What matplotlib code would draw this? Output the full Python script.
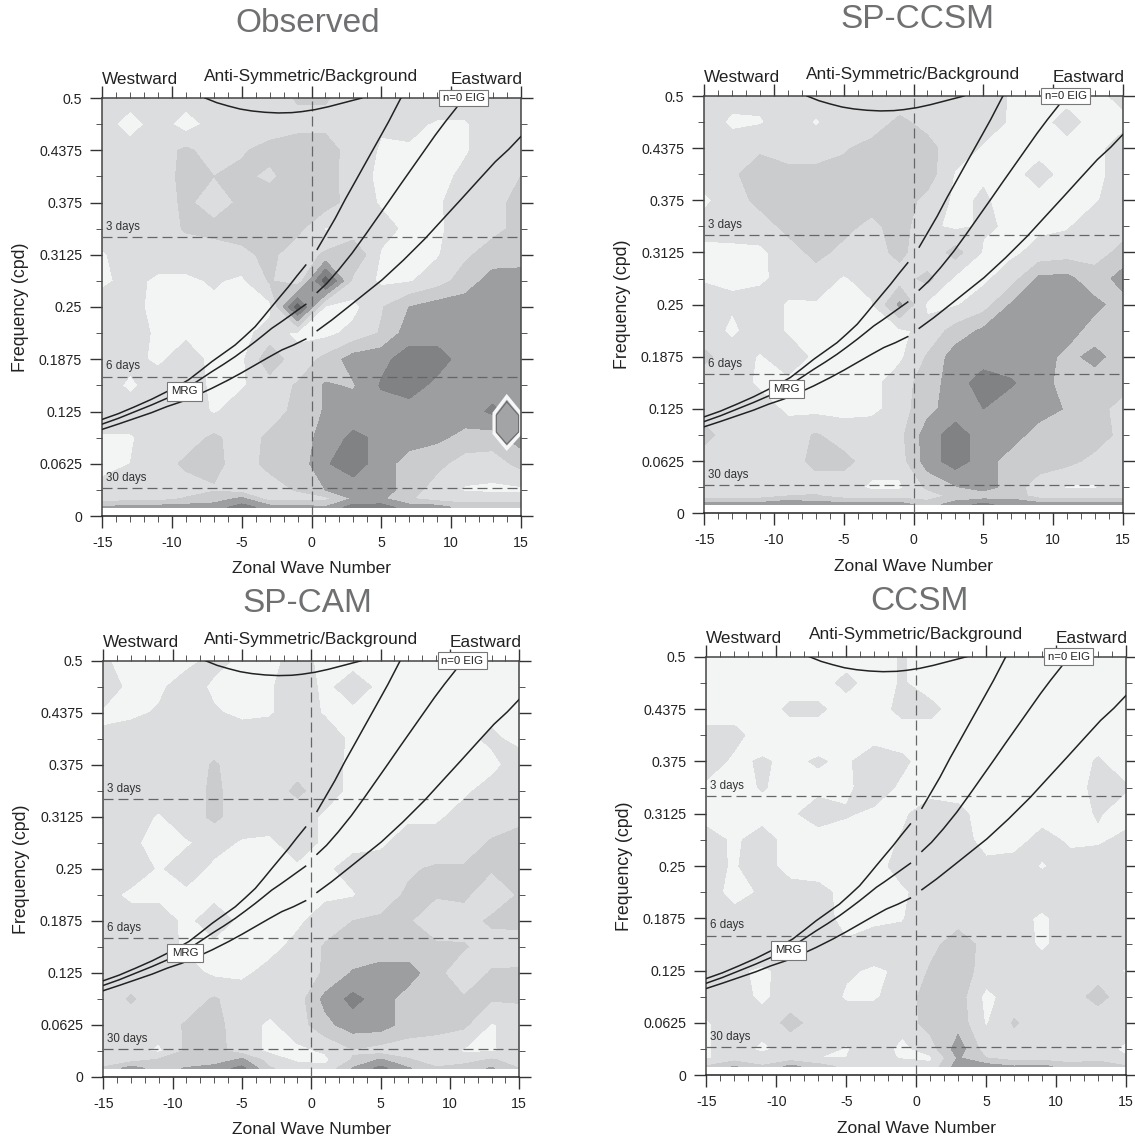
import numpy as np
import matplotlib
matplotlib.use('Agg')
import matplotlib.pyplot as plt

plt.rcParams['font.family'] = ['Liberation Sans', 'DejaVu Sans']
plt.rcParams['axes.unicode_minus'] = False

wavenumber = [-15, -13, -11, -9, -7, -5, -3, -1, 1, 3, 5, 7, 9, 11, 13, 15]
freq = [0.5, 0.46875, 0.4375, 0.40625, 0.375, 0.34375, 0.3125, 0.28125, 0.25,
        0.21875, 0.1875, 0.15625, 0.125, 0.09375, 0.0625, 0.03125, 0.0208, 0.0104]

# contour class of the power ratio, top row is 0.5 cpd
observed = [
    [1, 1, 1, 1, .8, 1, 1, 1.6, 1.6, 1, 1, 1, 1, 1, 1, 1],
    [1, 0, 1, 0, .9, 1.4, 1, 1.2, 1.2, 1, .6, .7, .4, .4, 1, 1],
    [1, 1, 1, 1.7, 1, 1.4, 1.8, 2, 2, 1, .4, .4, .2, .4, 1, 1],
    [1, 1, 1, 1.8, 1.5, 1.7, 1.3, 2, 2, .9, .3, .3, .2, .7, 1, 1.5],
    [1, 1, 1, 1.7, 1, 1.7, 2, 2, 2, 1, .4, .4, .3, 1.2, 1.2, 1.8],
    [1, 1, 1, 1.6, 1.8, 2, 2, 1.8, .4, .8, .8, .3, .3, 1, 1.2, 1.8],
    [.4, 1, 1, 1, 1, 1.2, 1.8, .8, 1.7, 2.4, .4, .2, .4, 1.3, 2, 1.8],
    [.3, .8, .3, .3, .6, .3, 1.6, .8, 5, 1.2, .3, .4, 1, 2, 2.9, 3.2],
    [1, .6, .4, .3, .3, .3, .2, 5, .3, .2, 1.4, 2.5, 3, 3, 3, 3],
    [1, 1, .3, .3, .2, .2, .9, .3, .2, .8, 1.6, 3, 3, 3, 3, 3],
    [1, .8, .3, 1, .2, .3, 2.2, .8, 1.8, 3, 3.2, 4, 4, 3, 3, 3],
    [1, .3, 1, 1, .3, .4, 1, 1.6, 2.6, 2.4, 3.6, 4, 3.2, 3, 3, 3],
    [1, 1, 1, 1, .4, 1, 1, 1.8, 2.6, 3, 3, 3, 2.8, 3, 3.7, 3],
    [.4, .4, 1, 1, 1.7, 1, 1.7, 1.8, 3, 3.7, 3.3, 3, 2.7, 2.2, 2, 3],
    [.3, .5, 1, 1.7, 1.8, 1, 1.8, 1.8, 3.4, 4, 3, 2, 1.8, 1, 1, 1.8],
    [.7, 1, 1, 1, 1.4, 1, 1, 1.6, 2.5, 3, 3, 2, 1, .4, .3, .3],
    [1, 1, 1, 1.6, 2, 2.7, 1, 1, 1.2, 2.6, 2.7, 1.6, 1, 1, 1, 1],
    [2.6, 3, 3, 3, 3, 4, 3, 3, 2.6, 4, 4, 3, 3, 2, 2, 2],
]
sp_ccsm = [
    [1, .9, .8, .9, 1, 1, 1, .9, 1, 1, 1, .4, .3, .3, .3, .7],
    [1, .3, .4, 1, .4, 1, 1, 1.7, 1.2, 1, .9, .4, .3, .7, .3, .3],
    [1, 1, 1.4, 1, 1, 1.4, 1.8, 2, 1.8, 1, .4, .2, .3, .3, .3, .8],
    [1, 1.4, 1.8, 1.8, 1.8, 1.8, 2, 1.8, 2, .4, .4, .3, .7, .3, .3, .8],
    [.3, 1, 1.8, 1.8, 2.2, 2, 2, 2, 1.2, .3, .6, .2, .3, .3, .4, 1],
    [.9, 1, 1, 1.8, 2, 1.8, 1.2, 2, .7, .3, .6, .4, .3, .4, 1, 1.2],
    [.2, .2, .3, 1, 1.8, 1.2, 1, 1.8, .7, 1.9, .4, .3, .8, 1, 1.2, 1.7],
    [.4, .4, .3, .9, 1, .4, .9, 1, 1.8, .3, .3, 1, 2.7, 2.8, 1.8, 3],
    [1, .6, 1, .4, .4, .3, .4, 2.7, .3, .4, 1, 2.6, 3, 3, 2.8, 2],
    [1, .3, 1, .4, .3, .4, .3, .3, .8, 1.9, 2.7, 3, 3.2, 3, 2, 2],
    [1.7, 1, .4, 1, .3, .3, .2, .3, 1.6, 3, 3, 3, 3, 2.2, 2.8, 2],
    [1, 1, .3, .3, .2, .2, .2, 1, 2, 3, 4, 3.6, 3, 2, 2, 2],
    [1, 1, 1, .3, .2, .2, .2, 1, 2.2, 3, 3.5, 3, 3, 2.4, 2, 1],
    [1.8, 1, 1, 1, 1.6, 1, 1.2, 1.2, 3, 4, 3, 3, 2, 2, 2, 1.2],
    [1, 1, 1, 1, 1.8, 1.8, 1, 1, 3, 4, 3, 2, 2, 1.8, 1.2, 1.2],
    [1, 1, .9, 1, 1, 1, .3, .3, 1.7, 2.4, 3, 2, 1, .4, .4, 1],
    [1, 1, 1, 1.5, 1.6, 1, 1, 1, 1, 1.8, 1.8, 2.2, 1, 1, 1, 1],
    [3, 3, 3, 3.4, 3, 3, 3, 3, 2, 3, 3.8, 3, 3, 3, 3, 3],
]
sp_cam = [
    [.6, .2, .2, .2, .8, .3, .2, .9, .2, .2, .4, .2, .2, .2, .2, .2],
    [.9, .3, .3, 1, .3, .3, .4, 1, .3, .9, .3, .2, .2, .2, .2, .4],
    [.4, .3, .6, 1, .6, .3, .4, 1, .4, .3, .2, .2, .2, .2, .2, .3],
    [.6, 1, 1, 1, 1, 1, 1, 1, 1, .3, .2, .2, .2, .2, .7, .2],
    [1, 1, 1, 1, 1.6, 1, 1, 1.1, 1, .2, .2, .2, .2, .2, .2, 1],
    [.9, 1, 1, 1, 1.7, 1, 1, 1.7, 1, .2, .2, .2, .2, .3, .9, 1.1],
    [.6, .9, .4, 1, 1.7, 1, 1, 1, .3, .2, .2, .3, .3, .9, 1, 1.3],
    [1, .6, .3, .4, .8, .4, .3, 1, .3, .2, .3, 1, 1, 1, 1.6, 1.8],
    [1, 1, .4, .9, .3, .3, .3, .3, .3, .9, 1, 1.4, 1.6, 1.6, 1.6, 1.6],
    [.8, .3, .3, .3, .3, .3, .3, .2, .3, .4, 1.2, 1.6, 1.6, 1.7, .8, 1.6],
    [1, .9, .9, .3, .9, .3, .3, .3, 1, 1.5, 1.6, 1.6, .8, 1, 1.7, 1.7],
    [1, 1, 1, .3, .3, .2, .2, .8, 1.6, 1.8, 1.8, 1.8, 1.7, 1.6, 1, 1.1],
    [1, 1, 1, .9, .3, .3, .8, 1, 1.6, 2.6, 3, 3, 1.8, .8, 1.6, 1.6],
    [1, 1.6, 1, 1, 1.6, 1, 1, 1, 2.8, 3.8, 3, 2, 1.8, 1.6, 1.6, 1.6],
    [1, 1, 1, 1.6, 1.8, 1, .3, 1, 2.2, 3, 3, 2, 1.8, 1.7, .4, 1],
    [.8, .9, .3, 1.7, 1.9, 1, .3, .3, .6, 1.4, 1, 1, 1, .4, .4, .9],
    [1, 1, 1.6, 1.6, 1.8, 2.7, 1, .3, .3, 1.6, 2.6, 1.6, 1, 1, 1.6, 1],
    [1.6, 3, 2, 2.6, 3, 3.8, 1.6, 1, .7, 2.6, 3.8, 2.6, 1.6, 2, 2.6, 1.5],
]
ccsm = [
    [0, 0, 0, 0, 0, 0, 0, .6, 0, 0, 0, 0, 0, 0, 0, 0],
    [0, 0, 0, 0, 0, .8, 0, .6, 0, 0, 0, 0, 0, 0, 0, 0],
    [0, 0, 0, .7, .7, 0, 0, .8, .8, 0, 0, 0, 0, 0, 0, 0],
    [.8, .8, 0, 0, 0, 0, 0, 0, 0, 0, 0, 0, 0, 0, 0, 0],
    [1, .3, .6, .3, .6, .3, 1.2, .7, 0, 0, 0, 0, 0, 0, .6, 0],
    [.3, 0, .6, 0, .2, .3, 1, .3, 0, 0, 0, 0, 0, 0, .8, .6],
    [0, 0, 0, .3, 1, .6, .3, .3, 1.1, .8, 0, 0, 0, 0, .6, 0],
    [1, .3, 1, 0, 0, 0, 0, .6, 1.3, 1.1, 0, 0, .9, .3, .3, .8],
    [.8, .4, 1, 0, 0, 0, 0, 1, 1.3, 1.1, .8, 1, .4, .9, 1.2, 1.2],
    [.9, .2, .6, 1, .8, .2, .1, .3, 1.1, 1.2, .8, .7, 1.1, 1, .6, .6],
    [1, .8, .9, 1, .9, .2, .3, .4, 1.5, 1.1, 1.3, .9, .3, 1, 1, 1],
    [1, 1, 1, 1.1, 1.1, .6, .9, 1.1, 1.2, 2, 1.2, 1.1, .3, 1.1, 1.1, 1.2],
    [1, .6, .4, .7, 1, .6, .4, .6, 1.6, 2, 1.1, .6, 1.1, 1.1, 1.1, .4],
    [1, .9, .3, 1, 1, .4, .4, .9, 2, 2, .2, 1, 1.1, 1.1, 1.8, 1],
    [.4, 1, .9, 1.8, 1.1, 1, 1, .9, 1.9, 2.1, .4, 1.6, 1, .5, .9, 1],
    [.4, .9, .3, .9, .9, .4, 1.1, .2, 1, 3, 1, 1, 1, .6, .9, .3],
    [.4, .9, .9, .9, .5, .5, .9, .4, .3, 2.6, 1.5, 1, 1, .9, .9, .6],
    [1.6, 2.6, 1.6, 2.8, 2, 1.2, 1.2, 1.2, .8, 3, 3, 2.6, 2.8, 2, 2.5, 1.6],
]

titles = ['Observed', 'SP-CCSM', 'SP-CAM', 'CCSM']
panels = [observed, sp_ccsm, sp_cam, ccsm]
title_centres = [(308, 24), (917, 20), (307, 603), (919, 601)]
# left, right, top, bottom in pixels
boxes = [(102.3, 520.7, 98, 516), (704.3, 1122.7, 96, 513.3),
         (103.3, 519.3, 660.7, 1077), (706.3, 1126, 656.7, 1075.3)]

# dispersion curves
w1_k = [-15, -13.85, -12.66, -11.47, -10.38, -9.55, -8.83, -7.99, -7.15, -6.31, -5.48, -4.76,
        -4.04, -3.44, -2.85, -2.25, -1.65, -1.05, -0.41]
w1_f = [.1156, .1224, .1308, .1396, .1487, .1559, .1627, .1735, .1846, .1946, .2045, .2153,
        .2265, .2384, .2504, .2624, .2743, .2871, .3002]
w2_k = [-15, -13.85, -12.66, -11.47, -10.38, -9.43, -8.59, -7.87, -7.15, -6.31, -5.48, -4.76,
        -4.04, -3.44, -2.85, -2.25, -1.65, -1.05, -0.41]
w2_f = [.1100, .1168, .1248, .1328, .1407, .1487, .1567, .1646, .1726, .1814, .1906, .1994,
        .2085, .2165, .2245, .2313, .2384, .2456, .2532]
w3_k = [-15, -13.85, -12.66, -11.47, -10.38, -9.31, -8.35, -7.15, -5.96, -5.0, -4.04, -3.08,
        -2.13, -1.29, -0.41]
w3_f = [.1037, .1100, .1168, .1236, .1308, .1368, .1435, .1527, .1627, .1714, .1806, .1898,
        .1986, .2045, .2117]
e1_k = [.41, .98, 1.70, 2.42, 3.13, 3.73, 4.33, 4.93, 5.53, 6.41]
e1_f = [.319, .3353, .356, .3788, .3999, .4179, .4358, .4537, .4717, .5]
e2_k = [.41, 1.1, 1.94, 2.9, 3.85, 4.69, 5.53, 6.36, 7.2, 8.04, 8.88, 9.6, 10.36, 10.8]
e2_f = [.2675, .2783, .2943, .3142, .3361, .3561, .376, .396, .4159, .4358, .4557, .4717,
        .4877, .4976]
e3_k = [.41, 1.46, 2.66, 3.85, 5.05, 6.6, 8.16, 9.47, 10.79, 11.98, 13.18, 14.14, 15]
e3_f = [.2217, .2345, .2504, .2663, .2823, .3062, .3321, .356, .38, .4019, .4238, .4386, .4537]
arc_k = [-7.63, -6.79, -5.96, -5.12, -4.28, -3.33, -2.37, -1.41, -0.69, 0.26, 1.22, 2.42, 3.61]
arc_f = [.5, .4944, .4904, .4868, .4845, .4829, .4821, .4825, .4837, .4861, .4896, .4948, .5]
curves = [(w1_k, w1_f), (w2_k, w2_f), (w3_k, w3_f), (e1_k, e1_f),
          (e2_k, e2_f), (e3_k, e3_f), (arc_k, arc_f)]

periods = [3, 6, 30]
period_labels = ['3 days', '6 days', '30 days']

# odd ringed cell in the observed panel
ring_k = [14.0, 14.98, 14.98, 14.0, 13.1, 13.1, 14.0]
ring_f = [.1427, .1228, .0989, .0809, .0989, .1228, .1427]
inner_k = [14.0, 14.85, 14.85, 14.0, 13.25, 13.25, 14.0]
inner_f = [.1365, .1205, .1005, .0860, .1005, .1205, .1365]

greys = ['#f3f4f4', '#dcdddf', '#cbcccd', '#9d9ea0', '#818284', '#646568']
levels = [-0.5, 0.5, 1.5, 2.5, 3.5, 4.5, 5.5]
xticks = [-15, -10, -5, 0, 5, 10, 15]
yticks = [0, 0.0625, 0.125, 0.1875, 0.25, 0.3125, 0.375, 0.4375, 0.5]
ylabels = ['0', '0.0625', '0.125', '0.1875', '0.25', '0.3125', '0.375', '0.4375', '0.5']

W, H = 1135, 1138
fig = plt.figure(figsize=(W / 100, H / 100), dpi=100)

for i in range(4):
    left, right, top, bottom = boxes[i]
    ax = fig.add_axes([left / W, 1 - bottom / H, (right - left) / W, (bottom - top) / H])
    ax.contourf(wavenumber, freq, np.array(panels[i]), levels=levels, colors=greys)
    if i == 0:
        ax.fill(ring_k, ring_f, color='#a3a4a6', ec='#f7f7f7', lw=2.5, zorder=2)
        ax.plot(inner_k, inner_f, color='#6a6b6d', lw=0.8, zorder=2)

    ax.axvline(0, color='#666666', lw=0.9, dashes=(8, 4), zorder=3)
    for p, lab in zip(periods, period_labels):
        ax.axhline(1 / p, color='#666666', lw=0.9, dashes=(8, 4), zorder=3)
        ax.text(-14.7, 1 / p + 0.0125, lab, fontsize=8.3, color='#333333', va='center', zorder=4)

    for ck, cf in curves:
        ax.plot(ck, cf, color='#222222', lw=1.1, zorder=4, clip_on=True)

    ax.text(-9.11, 0.1491, 'MRG', fontsize=8.2, color='#222222', ha='center', va='center', zorder=5,
            bbox=dict(boxstyle='square,pad=0.38', fc='white', ec='#777777', lw=0.8))
    ax.text(10.9, 0.5, 'n=0 EIG', fontsize=8.2, color='#222222', ha='center', va='center', zorder=5,
            clip_on=False, bbox=dict(boxstyle='square,pad=0.3', fc='white', ec='#777777', lw=0.8))

    ax.set_xlim(-15, 15)
    ax.set_ylim(0, 0.5)
    ax.set_xticks(xticks)
    ax.set_yticks(yticks)
    ax.set_yticklabels(ylabels)
    ax.set_xticks(np.arange(-15, 16), minor=True)
    ax.set_yticks(np.arange(0.03125, 0.5, 0.0625), minor=True)
    ax.tick_params(which='major', direction='out', length=8.5, width=1, top=True, right=True,
                   labelsize=10.2, color='#333333', labelcolor='#222222', pad=6)
    ax.tick_params(which='minor', direction='out', length=4, width=0.7, top=True, right=True,
                   color='#555555')
    for s in ax.spines.values():
        s.set_linewidth(1.1)
        s.set_color('#444444')
    ax.spines['bottom'].set_color('#222222')

    ax.set_xlabel('Zonal Wave Number', fontsize=12.5, color='#222222', labelpad=8)
    ax.set_ylabel('Frequency (cpd)', fontsize=12.8, color='#222222', labelpad=7)

    ax.text(0.0, 1.044, 'Westward', transform=ax.transAxes, fontsize=12.3, color='#222222', va='center')
    ax.text(0.5, 1.052, 'Anti-Symmetric/Background', transform=ax.transAxes, fontsize=12.4,
            color='#222222', ha='center', va='center')
    ax.text(1.005, 1.044, 'Eastward', transform=ax.transAxes, fontsize=12.4, color='#222222',
            ha='right', va='center')

    cx, cy = title_centres[i]
    fig.text(cx / W, 1 - cy / H, titles[i], fontsize=24, color='#6f7072', ha='center', va='center')

fig.savefig('out.png', dpi=100)
